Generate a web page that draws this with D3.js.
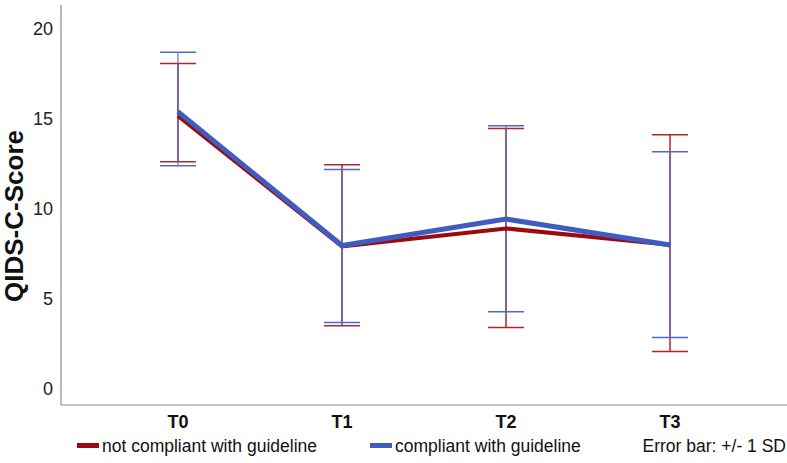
<!DOCTYPE html>
<html>
<head>
    <title>QIDS-C-Score by guideline compliance</title>
    <script src="https://d3js.org/d3.v7.min.js"></script>
    <style>
        body { margin: 0; background: #fff; overflow: hidden; }
        svg { display: block; }
        text { font-family: Arial, "Liberation Sans", sans-serif; }
    </style>
</head>
<body>
    <svg width="787" height="463"></svg>

    <script>
        // data
        var timepoints = ["T0", "T1", "T2", "T3"];
        var yTicks = [0, 5, 10, 15, 20];

        var notCompliantMean  = [15.15, 7.9, 8.9, 8.0];
        var notCompliantLower = [12.6, 3.5, 3.4, 2.07];
        var notCompliantUpper = [18.05, 12.44, 14.44, 14.1];

        var compliantMean  = [15.38, 7.95, 9.42, 7.98];
        var compliantLower = [12.38, 3.68, 4.28, 2.85];
        var compliantUpper = [18.68, 12.17, 14.6, 13.15];

        var series = [
            { name: "not compliant with guideline", mean: notCompliantMean, lo: notCompliantLower, hi: notCompliantUpper,
              line: "#9b0a0e", bar: "#b3262b", lw: 4 },
            { name: "compliant with guideline", mean: compliantMean, lo: compliantLower, hi: compliantUpper,
              line: "#3f5cc0", bar: "#5169cc", lw: 5 }
        ];

        var plotLeft = 61, plotRight = 787, plotTop = 5, plotBottom = 405;

        var svg = d3.select("svg");

        var x = d3.scalePoint().domain(timepoints).range([plotLeft, plotRight]).padding(0.713);
        var y = d3.scaleLinear().domain([-0.9, 21.3]).range([plotBottom, plotTop]);

        // axes lines
        svg.append("line")
            .attr("x1", plotLeft).attr("x2", plotLeft).attr("y1", plotTop).attr("y2", plotBottom)
            .attr("stroke", "#8a8a8a").attr("stroke-width", 1.2);
        svg.append("line")
            .attr("x1", plotLeft).attr("x2", plotRight).attr("y1", plotBottom).attr("y2", plotBottom)
            .attr("stroke", "#8a8a8a").attr("stroke-width", 1.2);

        // y tick labels
        svg.selectAll(".ytick")
            .data(yTicks)
            .enter().append("text")
            .attr("class", "ytick")
            .attr("x", plotLeft - 8)
            .attr("y", function(d) { return y(d); })
            .attr("dy", "0.35em")
            .style("text-anchor", "end")
            .style("font-size", "18px")
            .style("fill", "#222")
            .text(function(d) { return d; });

        // x tick labels
        svg.selectAll(".xtick")
            .data(timepoints)
            .enter().append("text")
            .attr("class", "xtick")
            .attr("x", function(d) { return x(d); })
            .attr("y", 422)
            .attr("dy", "0.35em")
            .style("text-anchor", "middle")
            .style("font-size", "18px")
            .style("font-weight", "bold")
            .style("fill", "#111")
            .text(function(d) { return d; });

        // y axis label
        svg.append("text")
            .attr("transform", "translate(14,216) rotate(-90)")
            .attr("dy", "0.35em")
            .style("text-anchor", "middle")
            .style("font-size", "26px")
            .style("font-weight", "bold")
            .style("fill", "#111")
            .text("QIDS-C-Score");

        var line = d3.line()
            .x(function(d, i) { return x(timepoints[i]); })
            .y(function(d) { return y(d); });

        // error bars
        series.forEach(function(s, k) {
            var g = svg.append("g").attr("class", "errbars");
            var capHalf = 18;
            timepoints.forEach(function(t, i) {
                g.append("line")
                    .attr("x1", x(t)).attr("x2", x(t))
                    .attr("y1", y(s.lo[i])).attr("y2", y(s.hi[i]))
                    .attr("stroke", s.bar).attr("stroke-width", 1.5)
                    .attr("opacity", k === 1 ? 0.75 : 1);
                [s.lo[i], s.hi[i]].forEach(function(v) {
                    g.append("line")
                        .attr("x1", x(t) - capHalf).attr("x2", x(t) + capHalf)
                        .attr("y1", y(v)).attr("y2", y(v))
                        .attr("stroke", s.bar).attr("stroke-width", 1.5);
                });
            });
        });

        // mean lines
        series.forEach(function(s) {
            svg.append("path")
                .attr("d", line(s.mean))
                .attr("fill", "none")
                .attr("stroke", s.line)
                .attr("stroke-width", s.lw)
                .attr("stroke-linejoin", "miter");
        });

        // legend
        var legendItems = [
            { x: 77, s: series[0] },
            { x: 370, s: series[1] }
        ];
        legendItems.forEach(function(it) {
            svg.append("rect")
                .attr("x", it.x).attr("y", 443)
                .attr("width", 22).attr("height", 5)
                .attr("fill", it.s.line);
            svg.append("text")
                .attr("x", it.x + 25).attr("y", 446)
                .attr("dy", "0.35em")
                .style("font-size", "17.5px")
                .style("fill", "#111")
                .text(it.s.name);
        });
        svg.append("text")
            .attr("x", 786).attr("y", 446)
            .attr("dy", "0.35em")
            .style("text-anchor", "end")
            .style("font-size", "17.5px")
            .style("fill", "#111")
            .text("Error bar: +/- 1 SD");
    </script>
</body>
</html>
